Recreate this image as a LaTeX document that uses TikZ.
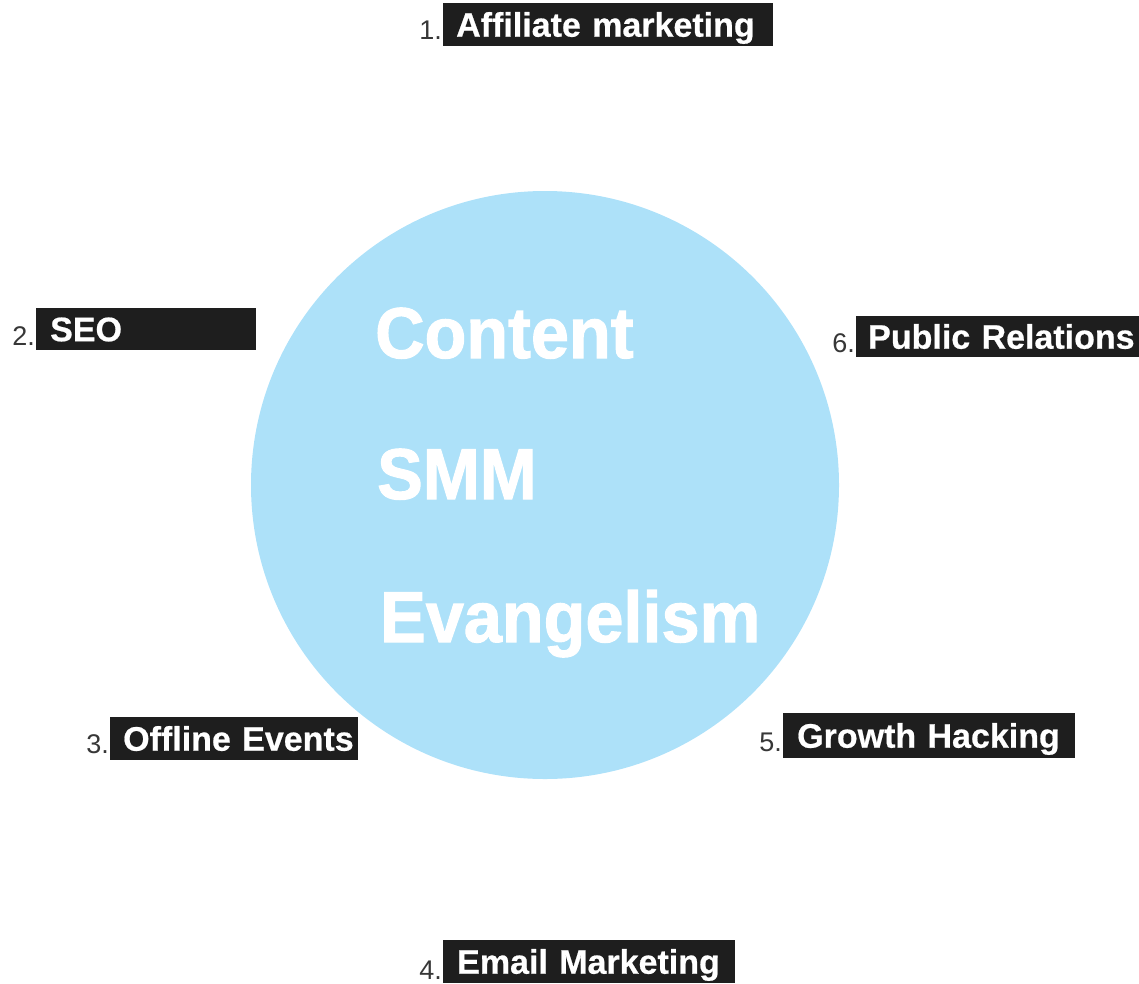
\documentclass[tikz,border=0pt]{standalone}
\usepackage{fontspec}
\setmainfont{Liberation Sans}
\newfontfamily\cfont[FakeStretch=0.95,FakeBold=1.5]{Liberation Sans}
\newfontfamily\lfont[FakeBold=0.6]{Liberation Sans}
\definecolor{circc}{RGB}{173,225,249}
\definecolor{boxc}{RGB}{30,30,30}
\definecolor{numc}{RGB}{55,55,55}
\tikzset{
  lab/.style={fill=boxc, text=white, font=\fontsize{34}{36}\lfont\bfseries,
    anchor=north west, inner xsep=13pt, inner ysep=0pt, align=left,
    text height=24pt, text depth=0pt},
  num/.style={text=numc, font=\fontsize{27}{29}\selectfont, anchor=base east, inner sep=0pt},
  ctext/.style={text=white, font=\fontsize{72}{76}\cfont\bfseries, anchor=base west, inner sep=0pt}
}
\begin{document}
\begin{tikzpicture}[x=1pt,y=-1pt]
\useasboundingbox (0,0) rectangle (1139,983);
\node[circle, fill=circc, minimum size=588pt, inner sep=0pt] (c) at (545,485) {};
\node[ctext] (t1) at (375,358) {Content};
\node[ctext] (t2) at (377,499) {SMM};
\node[ctext] (t3) at (380,642) {Evangelism};

\node[lab, text width=304pt, minimum height=43pt] (l1) at (443,3) {\mbox{Affiliate marketing}};
\node[lab, text width=192pt, minimum height=42pt, inner xsep=14pt] (l2) at (36,308) {\mbox{SEO}};
\node[lab, text width=259pt, minimum height=41pt, inner xsep=12pt] (l6) at (856,316) {\mbox{Public Relations}};
\node[lab, text width=222pt, minimum height=43pt] (l3) at (110,717) {\mbox{Offline Events}};
\node[lab, text width=264pt, minimum height=45pt, inner xsep=14pt] (l5) at (783,713) {\mbox{Growth Hacking}};
\node[lab, text width=264pt, minimum height=43pt, inner xsep=14pt] (l4) at (443,940) {\mbox{Email Marketing}};

\node[num] (n1) at ([xshift=-1pt,yshift=7pt]l1.south west) {1.};
\node[num] (n2) at ([xshift=-1pt,yshift=5pt]l2.south west) {2.};
\node[num] (n6) at ([xshift=-1pt,yshift=5pt]l6.south west) {6.};
\node[num] (n3) at ([xshift=-1pt,yshift=7pt]l3.south west) {3.};
\node[num] (n5) at ([xshift=-1pt,yshift=7pt]l5.south west) {5.};
\node[num] (n4) at ([xshift=-1pt,yshift=4pt]l4.south west) {4.};
\end{tikzpicture}
\end{document}
